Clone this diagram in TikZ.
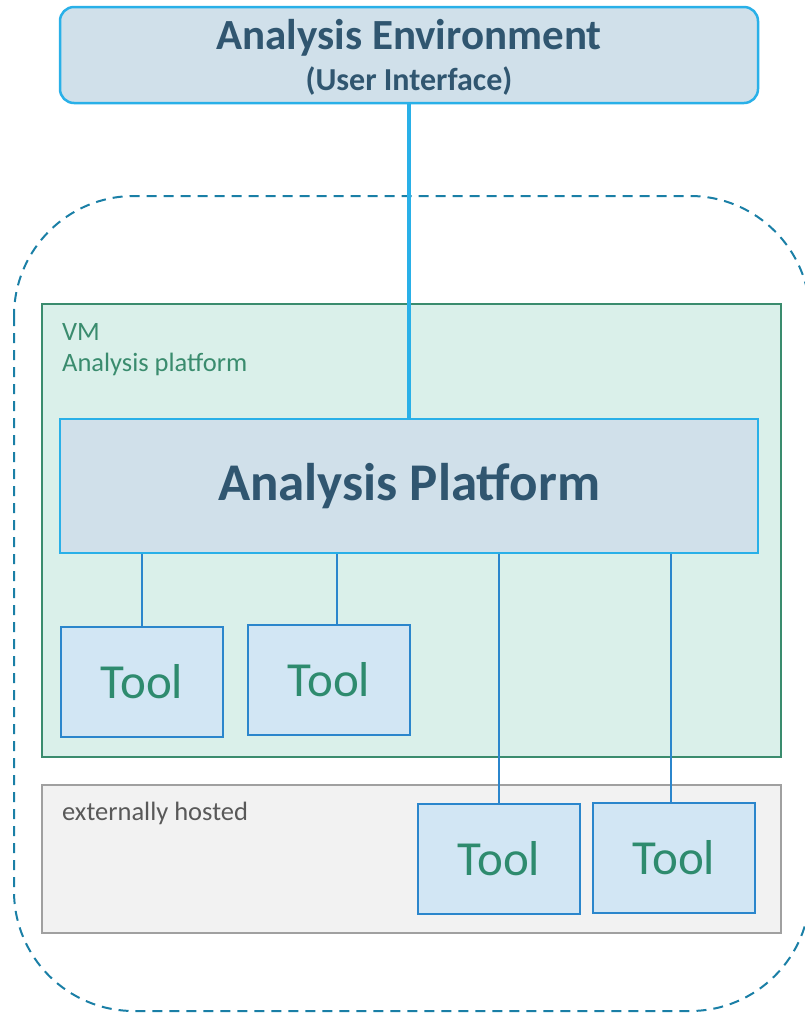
\documentclass[tikz,border=0pt]{standalone}
\usepackage{fontspec}
\setmainfont{Carlito}
\definecolor{envfill}{HTML}{D0E0EA}
\definecolor{envline}{HTML}{29B0E8}
\definecolor{envtext}{HTML}{305670}
\definecolor{dashcol}{HTML}{1A7FA6}
\definecolor{vmfill}{HTML}{DAF0EA}
\definecolor{vmline}{HTML}{3A8C6E}
\definecolor{toolfill}{HTML}{D2E6F4}
\definecolor{toolline}{HTML}{2B86CC}
\definecolor{tooltext}{HTML}{2E8B6E}
\definecolor{extfill}{HTML}{F2F2F2}
\definecolor{extline}{HTML}{A0A0A0}
\definecolor{exttext}{HTML}{595959}
\tikzset{
  toolbox/.style={draw=toolline, fill=toolfill, line width=2pt, minimum width=162pt, minimum height=110pt, inner sep=0pt, text=tooltext, font=\fontsize{49}{52}\selectfont},
  thinlink/.style={draw=toolline, line width=2pt},
  thicklink/.style={draw=envline, line width=4pt},
  zonelabel/.style={anchor=base west, inner sep=0pt, font=\fontsize{26.5}{30}\selectfont},
}
\begin{document}
\begin{tikzpicture}[x=1pt,y=-1pt]
\useasboundingbox (0,0) rectangle (805,1013);
\clip (0,0) rectangle (805,1013);
% dashed zone
\draw[dashcol, line width=2pt, dash pattern=on 10pt off 7pt, rounded corners=120pt] (14,196) rectangle (810,1011);
% VM box
\node[draw=vmline, fill=vmfill, line width=2pt, minimum width=739pt, minimum height=453pt, inner sep=0pt] (vm) at (411.5,530.5) {};
\node[zonelabel, text=vmline] (vmlab) at (62,340) {VM};
\node[zonelabel, text=vmline] (vmlab2) at (62,371) {Analysis platform};
% external box
\node[draw=extline, fill=extfill, line width=2.5pt, minimum width=739pt, minimum height=148pt, inner sep=0pt] (ext) at (411.5,859) {};
\node[zonelabel, text=exttext] (extlab) at (62,820) {externally hosted};
% Analysis platform
\node[draw=envline, fill=envfill, line width=2pt, minimum width=698pt, minimum height=134pt, inner sep=0pt, text=envtext, font=\bfseries\fontsize{53}{56}\selectfont] (ap) at (409,486) {Analysis Platform};
% tools
\node[toolbox] (t1) at (142,682) {Tool};
\node[toolbox] (t2) at (329,680) {Tool};
\node[toolbox] (t3) at (499,859) {Tool};
\node[toolbox] (t4) at (674,858) {Tool};
% links
\draw[thinlink] (ap.south -| 142,0) -- (t1.north);
\draw[thinlink] (ap.south -| 337,0) -- (337,625);
\draw[thinlink] (ap.south -| 499,0) -- (t3.north);
\draw[thinlink] (ap.south -| 671,0) -- (671,803);
% environment box
\node[draw=envline, fill=envfill, line width=2.5pt, rounded corners=14pt, minimum width=698pt, minimum height=96pt, inner sep=0pt] (env) at (409,55) {};
\node[text=envtext, font=\bfseries\fontsize{43}{46}\selectfont, inner sep=0pt] (envt1) at (409,38) {Analysis Environment};
\node[text=envtext, font=\bfseries\fontsize{32}{34}\selectfont, inner sep=0pt] (envt2) at (409,81) {(User Interface)};
\draw[thicklink] (env.south) -- (ap.north);
\end{tikzpicture}
\end{document}
